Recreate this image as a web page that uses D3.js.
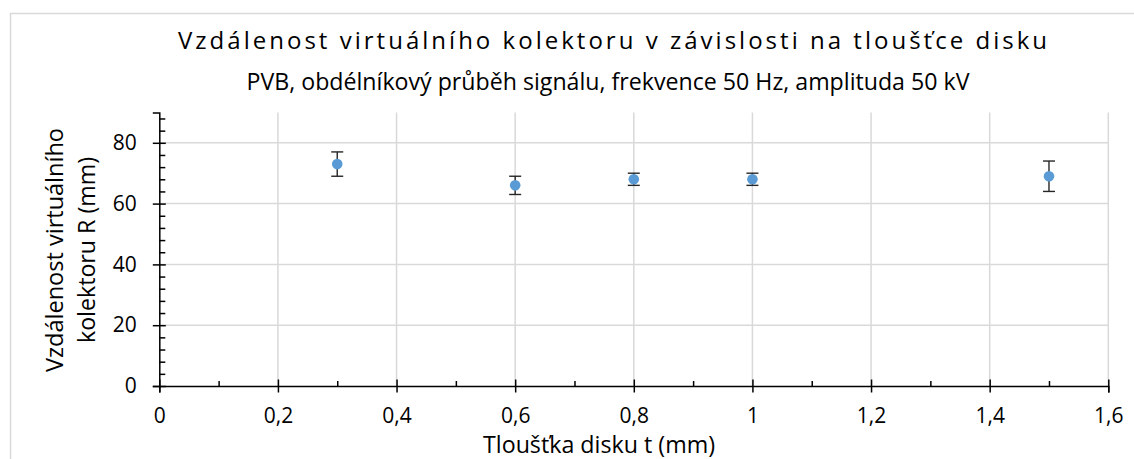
<!doctype html>
<html>
  <head>
    <meta charset="utf-8" />
    <title>Vzdálenost virtuálního kolektoru</title>
    <script src="https://cdn.jsdelivr.net/npm/d3@7"></script>
    <style>
      html,
      body {
        margin: 0;
        background: #fff;
        overflow: hidden;
      }
      text {
        font-family: "Open Sans", "Noto Sans", sans-serif;
        fill: #000;
      }
    </style>
  </head>
  <body>
    <script>
      // Data
      const thickness = [0.3, 0.6, 0.8, 1.0, 1.5];
      const distance = [73, 66, 68, 68, 69];
      const errorBar = [4, 3, 2, 2, 5];
      const xTicks = [0, 0.2, 0.4, 0.6, 0.8, 1.0, 1.2, 1.4, 1.6];
      const xMinorTicks = [0.1, 0.3, 0.5, 0.7, 0.9, 1.1, 1.3, 1.5];
      const yTicks = [0, 20, 40, 60, 80];
      const yMinorTicks = d3.range(4, 90, 4).filter((d) => d % 20 !== 0);

      const title = "Vzdálenost virtuálního kolektoru v závislosti na tloušťce disku";
      const subtitle = "PVB, obdélníkový průběh signálu, frekvence 50 Hz, amplituda 50 kV";
      const xTitle = "Tloušťka disku t (mm)";
      const yTitle = ["Vzdálenost virtuálního", "kolektoru R (mm)"];

      const width = 1134;
      const height = 459;

      // czech number format: decimal comma
      const cs = d3.formatLocale({
        decimal: ",",
        thousands: " ",
        grouping: [3],
        currency: ["", " Kč"],
      });
      const fmt = cs.format("~g");

      const x = d3.scaleLinear().domain([0, 1.6]).range([159.3, 1108.3]);
      const y = d3.scaleLinear().domain([0, 90]).range([386, 112.4]);

      const svg = d3
        .select("body")
        .append("svg")
        .attr("width", width)
        .attr("height", height);

      // chart frame (runs off the right and bottom edge)
      svg
        .append("rect")
        .attr("x", 10.5)
        .attr("y", 13.5)
        .attr("width", 1300)
        .attr("height", 600)
        .attr("fill", "#fff")
        .attr("stroke", "#d9d9d9")
        .attr("stroke-width", 1.5);

      // gridlines
      const grid = svg.append("g").attr("stroke", "#d9d9d9").attr("stroke-width", 1.5);
      grid
        .selectAll(".gx")
        .data(xTicks.filter((d) => d > 0))
        .join("line")
        .attr("x1", (d) => x(d))
        .attr("x2", (d) => x(d))
        .attr("y1", y(90))
        .attr("y2", y(0));
      grid
        .selectAll(".gy")
        .data(yTicks.filter((d) => d > 0))
        .join("line")
        .attr("x1", x(0))
        .attr("x2", x(1.6))
        .attr("y1", (d) => y(d))
        .attr("y2", (d) => y(d));

      // x axis
      const xAxis = svg
        .append("g")
        .attr("transform", `translate(0,${y(0)})`)
        .call(
          d3.axisBottom(x).tickValues(xTicks).tickFormat(fmt).tickSizeOuter(0).tickSize(6.5).tickPadding(16)
        );
      xAxis.selectAll(".tick line").attr("y1", -6.5);
      svg
        .append("g")
        .attr("transform", `translate(0,${y(0)})`)
        .call(d3.axisBottom(x).tickValues(xMinorTicks).tickFormat("").tickSizeOuter(0).tickSize(-5))
        .select(".domain")
        .remove();

      // y axis
      const yAxis = svg
        .append("g")
        .attr("transform", `translate(${x(0)},0)`)
        .call(d3.axisLeft(y).tickValues(yTicks).tickSizeOuter(0).tickSize(6.5).tickPadding(16));
      yAxis.selectAll(".tick line").attr("x1", 6.5);
      svg
        .append("g")
        .attr("transform", `translate(${x(0)},0)`)
        .call(d3.axisLeft(y).tickValues(yMinorTicks).tickFormat("").tickSizeOuter(0).tickSize(-6))
        .select(".domain")
        .remove();

      svg
        .selectAll(".domain, .tick line")
        .attr("stroke", "#000")
        .attr("stroke-width", 1.5);
      svg
        .selectAll(".tick text")
        .attr("font-family", "Open Sans")
        .attr("font-size", 21)
        .attr("fill", "#000");

      // error bars
      const points = thickness.map((t, i) => ({ t, r: distance[i], e: errorBar[i] }));
      const err = svg
        .append("g")
        .attr("stroke", "#262626")
        .attr("stroke-width", 1.4)
        .selectAll("g")
        .data(points)
        .join("g");
      err
        .append("line")
        .attr("x1", (d) => x(d.t))
        .attr("x2", (d) => x(d.t))
        .attr("y1", (d) => y(d.r - d.e))
        .attr("y2", (d) => y(d.r + d.e));
      err
        .append("line")
        .attr("x1", (d) => x(d.t) - 6)
        .attr("x2", (d) => x(d.t) + 6)
        .attr("y1", (d) => y(d.r + d.e))
        .attr("y2", (d) => y(d.r + d.e));
      err
        .append("line")
        .attr("x1", (d) => x(d.t) - 6)
        .attr("x2", (d) => x(d.t) + 6)
        .attr("y1", (d) => y(d.r - d.e))
        .attr("y2", (d) => y(d.r - d.e));

      // markers
      svg
        .append("g")
        .selectAll("circle")
        .data(points)
        .join("circle")
        .attr("cx", (d) => x(d.t))
        .attr("cy", (d) => y(d.r))
        .attr("r", 5.3)
        .attr("fill", "#5b9bd5");

      // titles
      svg
        .append("text")
        .attr("x", 612.5)
        .attr("y", 49)
        .attr("text-anchor", "middle")
        .attr("font-size", 24)
        .attr("textLength", 869)
        .attr("lengthAdjust", "spacing")
        .text(title);

      svg
        .append("text")
        .attr("x", 608)
        .attr("y", 90)
        .attr("text-anchor", "middle")
        .attr("font-size", 24)
        .attr("textLength", 723)
        .attr("lengthAdjust", "spacingAndGlyphs")
        .text(subtitle);

      svg
        .append("text")
        .attr("x", 599)
        .attr("y", 453)
        .attr("text-anchor", "middle")
        .attr("font-size", 24)
        .attr("textLength", 232)
        .attr("lengthAdjust", "spacingAndGlyphs")
        .text(xTitle);

      const yLineBase = [63, 95];
      const yLineLen = [244, 186];
      yTitle.forEach((line, i) => {
        svg
          .append("text")
          .attr("transform", `translate(${yLineBase[i]},250) rotate(-90)`)
          .attr("text-anchor", "middle")
          .attr("font-size", 24)
          .attr("textLength", yLineLen[i])
          .attr("lengthAdjust", "spacingAndGlyphs")
          .text(line);
      });
    </script>
  </body>
</html>
